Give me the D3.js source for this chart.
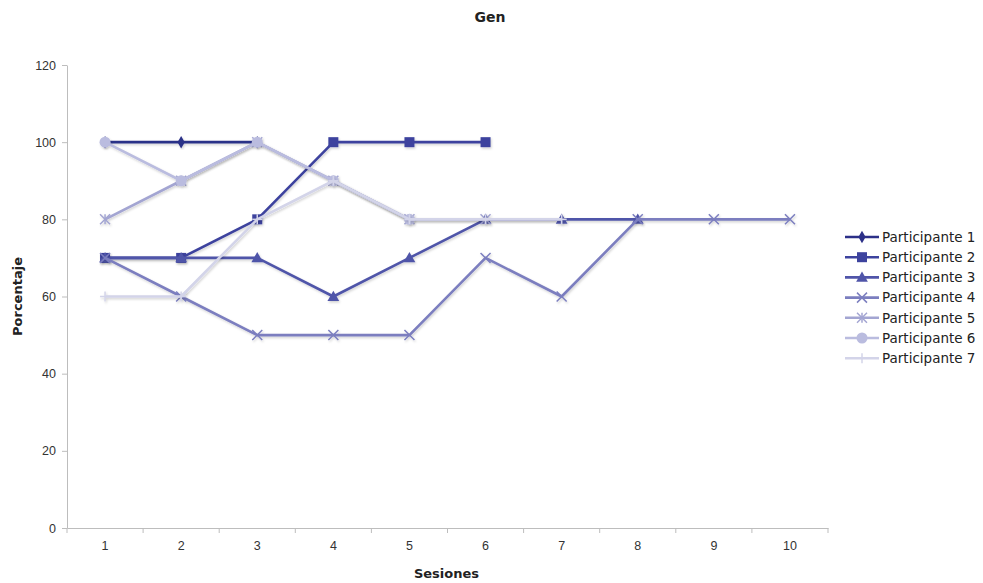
<!DOCTYPE html>
<html>
<head>
<meta charset="utf-8">
<script src="https://cdn.jsdelivr.net/npm/d3@7"></script>
<style>
  body { margin: 0; background: #fff; }
  svg { font-family: "DejaVu Sans", Verdana, sans-serif; }
  .axis path, .axis line { stroke: #bdbdbd; }
  .axis text { fill: #333; font-size: 12.5px; }
</style>
</head>
<body>
<div id="chart"></div>
<script>
// sessions on the x axis
const sessions = [1, 2, 3, 4, 5, 6, 7, 8, 9, 10];
const yTicks = [0, 20, 40, 60, 80, 100, 120];

// one array per participant
const participant1 = [100, 100, 100];
const participant2 = [70, 70, 80, 100, 100, 100];
const participant3 = [70, 70, 70, 60, 70, 80, 80, 80];
const participant4 = [70, 60, 50, 50, 50, 70, 60, 80, 80, 80];
const participant5 = [80, 90, 100, 90, 80, 80];
const participant6 = [100, 90, 100, 90, 80];
const participant7 = [60, 60, 80, 90, 80, 80, 80];

const seriesNames = ['Participante 1', 'Participante 2', 'Participante 3', 'Participante 4',
  'Participante 5', 'Participante 6', 'Participante 7'];
const seriesValues = [participant1, participant2, participant3, participant4,
  participant5, participant6, participant7];
const colors = ['#2c3088', '#3d439e', '#5055a9', '#7b7ebf', '#a3a5d2', '#babcdf', '#d3d4e9'];
const markers = ['diamond', 'square', 'triangle', 'x', 'star', 'circle', 'plus'];

const width = 983, height = 583;
const margin = { top: 65, right: 155, bottom: 55, left: 67 };

const svg = d3.select('#chart').append('svg')
  .attr('width', width)
  .attr('height', height);

// soft shadow like the spreadsheet style
const defs = svg.append('defs');
defs.append('filter')
  .attr('id', 'shadow')
  .attr('x', '-10%').attr('y', '-10%').attr('width', '120%').attr('height', '120%')
  .append('feDropShadow')
  .attr('dx', 1).attr('dy', 1.5).attr('stdDeviation', 1)
  .attr('flood-color', '#000').attr('flood-opacity', 0.18);

const x = d3.scaleBand()
  .domain(sessions)
  .range([margin.left, width - margin.right])
  .padding(0);

const y = d3.scaleLinear()
  .domain([0, 120])
  .range([height - margin.bottom, margin.top]);

const cx = s => x(s) + x.bandwidth() / 2;

// axes
svg.append('g')
  .attr('class', 'axis')
  .attr('transform', `translate(${margin.left},0)`)
  .call(d3.axisLeft(y).tickValues(yTicks).tickSize(5).tickSizeOuter(0))
  .call(g => g.selectAll('text').attr('dx', '-3'));

const xAxis = svg.append('g')
  .attr('class', 'axis')
  .attr('transform', `translate(0,${height - margin.bottom})`)
  .call(d3.axisBottom(x).tickSize(0).tickSizeOuter(0))
  .call(g => g.selectAll('text').attr('dy', '1.55em'));

// category separators
xAxis.selectAll('.sep')
  .data(sessions.concat([null]))
  .enter().append('line')
  .attr('class', 'sep')
  .attr('x1', (d, i) => margin.left + i * x.step())
  .attr('x2', (d, i) => margin.left + i * x.step())
  .attr('y1', 0)
  .attr('y2', 5)
  .attr('stroke', '#bdbdbd');

// title and axis labels
svg.append('text')
  .attr('x', 490).attr('y', 22)
  .attr('text-anchor', 'middle')
  .style('font-size', '14px').style('font-weight', 'bold')
  .attr('fill', '#222')
  .text('Gen');

svg.append('text')
  .attr('x', (margin.left + width - margin.right) / 2 - 1).attr('y', 578)
  .attr('text-anchor', 'middle')
  .style('font-size', '13px').style('font-weight', 'bold')
  .attr('fill', '#222')
  .text('Sesiones');

svg.append('text')
  .attr('transform', `translate(22,${(margin.top + height - margin.bottom) / 2}) rotate(-90)`)
  .attr('text-anchor', 'middle')
  .style('font-size', '13px').style('font-weight', 'bold')
  .attr('fill', '#222')
  .text('Porcentaje');

// marker drawing
function drawMarker(g, type, color, px, py) {
  if (type === 'diamond') {
    g.append('path').attr('d', d3.symbol(d3.symbolDiamond, 45)())
      .attr('transform', `translate(${px},${py})`).attr('fill', color);
  } else if (type === 'square') {
    g.append('rect').attr('x', px - 5).attr('y', py - 5).attr('width', 10).attr('height', 10)
      .attr('fill', color);
  } else if (type === 'triangle') {
    g.append('path').attr('d', d3.symbol(d3.symbolTriangle, 60)())
      .attr('transform', `translate(${px},${py + 1})`).attr('fill', color);
  } else if (type === 'circle') {
    g.append('circle').attr('cx', px).attr('cy', py).attr('r', 5.5).attr('fill', color);
  } else {
    const s = 5;
    const lines = [];
    if (type === 'x' || type === 'star') {
      lines.push([-s, -s, s, s], [-s, s, s, -s]);
    }
    if (type === 'star' || type === 'plus') {
      lines.push([0, -s, 0, s]);
    }
    if (type === 'plus') {
      lines.push([-s, 0, s, 0]);
    }
    lines.forEach(l => {
      g.append('line')
        .attr('x1', px + l[0]).attr('y1', py + l[1])
        .attr('x2', px + l[2]).attr('y2', py + l[3])
        .attr('stroke', color).attr('stroke-width', 1.5);
    });
  }
}

const line = d3.line()
  .x(d => cx(d.s))
  .y(d => y(d.v));

// series in order, later ones drawn on top
seriesValues.forEach((vals, i) => {
  const data = vals.map((v, j) => ({ s: sessions[j], v: v }));
  const g = svg.append('g').attr('filter', 'url(#shadow)');
  g.append('path')
    .datum(data)
    .attr('fill', 'none')
    .attr('stroke', colors[i])
    .attr('stroke-width', 2.6)
    .attr('stroke-linejoin', 'round')
    .attr('d', line);
  data.forEach(d => drawMarker(g, markers[i], colors[i], cx(d.s), y(d.v)));
});

// legend
const legend = svg.append('g').attr('transform', 'translate(845,237)');
seriesNames.forEach((name, i) => {
  const row = legend.append('g').attr('transform', `translate(0,${i * 20.2})`);
  row.append('line')
    .attr('x1', 0).attr('x2', 34).attr('y1', 0).attr('y2', 0)
    .attr('stroke', colors[i]).attr('stroke-width', 2.6);
  drawMarker(row, markers[i], colors[i], 17, 0);
  row.append('text')
    .attr('x', 37).attr('y', 0).attr('dy', '0.35em')
    .style('font-size', '13.5px').attr('fill', '#222')
    .text(name);
});
</script>
</body>
</html>
